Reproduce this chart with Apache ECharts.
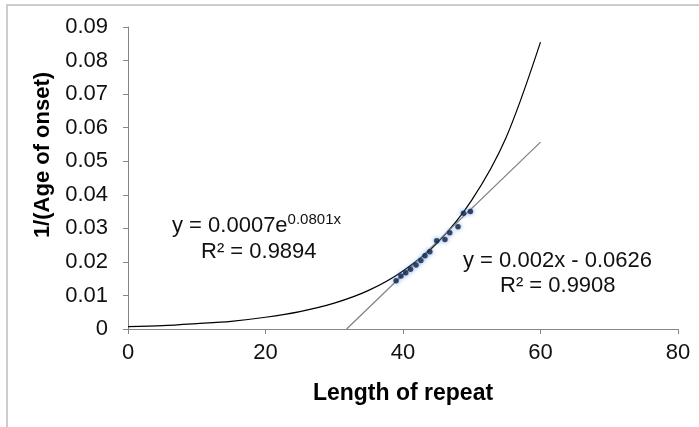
<!DOCTYPE html>
<html>
<head>
<meta charset="utf-8">
<script src="https://cdn.jsdelivr.net/npm/echarts@6/dist/echarts.min.js"></script>
<style>
    html, body { margin: 0; padding: 0; background: #fff; }
    #main { width: 699px; height: 427px; }
</style>
</head>
<body>
<div id="main"></div>
<script>
// measured points: repeat length vs 1/(age of onset)
var repeatLen = [39.0, 39.7, 40.4, 41.1, 41.9, 42.6, 43.2, 43.9, 44.9, 46.1, 46.8, 48.0, 48.8, 49.8];
var invOnset = [0.0144, 0.0158, 0.0168, 0.0178, 0.0191, 0.0204, 0.0218, 0.0230, 0.0263, 0.0267, 0.0287, 0.0305, 0.0345, 0.0350];

// exponential trendline
var expX = [0, 5, 10, 15, 20, 25, 30, 35, 40, 45, 50, 55, 60];
var expY = [0.0007, 0.0010, 0.0016, 0.0023, 0.0035, 0.0052, 0.0077, 0.0115, 0.0173, 0.0257, 0.0384, 0.0571, 0.0855];

// linear trendline end points
var linX = [31.8, 60];
var linY = [0, 0.0557];

var xTicks = [0, 20, 40, 60, 80];
var yTicks = [0, 0.01, 0.02, 0.03, 0.04, 0.05, 0.06, 0.07, 0.08, 0.09];

function zip(a, b) {
    var out = [];
    for (var i = 0; i < a.length; i++) out.push([a[i], b[i]]);
    return out;
}

var axisGray = '#868686';
var font = 'Liberation Sans, Arial, sans-serif';

var mychart = echarts.init(document.getElementById('main'));
window.onresize = mychart.resize;

var option = {
    backgroundColor: '#fff',
    animation: false,
    grid: { left: 128, right: 21, top: 27, bottom: 98 },
    xAxis: {
        type: 'value',
        min: xTicks[0],
        max: xTicks[xTicks.length - 1],
        interval: 20,
        name: 'Length of repeat',
        nameLocation: 'middle',
        nameGap: 53,
        nameTextStyle: { fontFamily: font, fontSize: 23, fontWeight: 'bold', color: '#000' },
        axisLine: { lineStyle: { color: axisGray } },
        axisTick: { show: true, length: 5, lineStyle: { color: axisGray } },
        axisLabel: { fontFamily: font, fontSize: 22, color: '#111', margin: 13 },
        splitLine: { show: false }
    },
    yAxis: {
        type: 'value',
        min: yTicks[0],
        max: yTicks[yTicks.length - 1],
        interval: 0.01,
        name: '1/(Age of onset)',
        nameLocation: 'middle',
        nameGap: 72,
        nameTextStyle: { fontFamily: font, fontSize: 22, fontWeight: 'bold', color: '#000', padding: [0, 0, 0, 46] },
        axisLine: { show: true, lineStyle: { color: axisGray } },
        axisTick: { show: true, length: 5, lineStyle: { color: axisGray } },
        axisLabel: {
            fontFamily: font, fontSize: 22, color: '#111', margin: 20,
            formatter: function (v) { return v === 0 ? '0' : v.toFixed(2); }
        },
        splitLine: { show: false }
    },
    series: [
        {
            name: 'exp',
            type: 'line',
            data: zip(expX, expY),
            smooth: 0.3,
            showSymbol: false,
            lineStyle: { color: '#000', width: 1.2 },
            z: 2
        },
        {
            name: 'linear',
            type: 'line',
            data: zip(linX, linY),
            showSymbol: false,
            lineStyle: { color: '#7f7f7f', width: 1.2 },
            z: 2
        },
        {
            name: 'data',
            type: 'scatter',
            data: zip(repeatLen, invOnset),
            symbol: 'circle',
            symbolSize: 5.5,
            itemStyle: {
                color: '#14213d',
                shadowBlur: 4,
                shadowColor: '#3d8be0'
            },
            z: 3
        }
    ],
    graphic: [
        {
            type: 'rect',
            shape: { x: 7, y: 5, width: 760, height: 460 },
            style: { fill: 'none', stroke: '#bdbdbd', lineWidth: 1.5 },
            silent: true
        },
        {
            type: 'text',
            left: 172, top: 212,
            style: {
                text: '{a|y = 0.0007e}{s|0.0801x}',
                rich: {
                    a: { fontFamily: font, fontSize: 22, fill: '#111' },
                    s: { fontFamily: font, fontSize: 15, fill: '#111', padding: [0, 0, 12, 0] }
                }
            }
        },
        {
            type: 'text',
            left: 201, top: 241,
            style: { text: 'R\u00b2 = 0.9894', font: '22px ' + font, fill: '#111' }
        },
        {
            type: 'text',
            left: 463, top: 250,
            style: { text: 'y = 0.002x - 0.0626', font: '22px ' + font, fill: '#111' }
        },
        {
            type: 'text',
            left: 500, top: 275,
            style: { text: 'R\u00b2 = 0.9908', font: '22px ' + font, fill: '#111' }
        }
    ]
};

mychart.setOption(option, true);
</script>
</body>
</html>
